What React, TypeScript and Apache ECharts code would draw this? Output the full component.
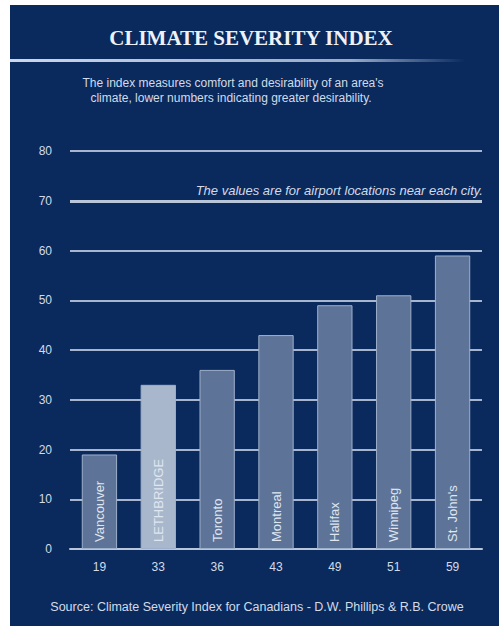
import React, { useEffect, useRef } from "react";
import * as echarts from "echarts";

const cities = ["Vancouver", "LETHBRIDGE", "Toronto", "Montreal", "Halifax", "Winnipeg", "St. John's"];
const values = [19, 33, 36, 43, 49, 51, 59];
const highlightCity = "LETHBRIDGE";
const yTicks = [0, 10, 20, 30, 40, 50, 60, 70, 80];
const noteLevel = 70;

const title = "CLIMATE SEVERITY INDEX";
const subtitle1 = "The index measures comfort and desirability of an area's";
const subtitle2 = "climate, lower numbers indicating greater desirability.";
const note = "The values are for airport locations near each city.";
const source = "Source: Climate Severity Index for Canadians - D.W. Phillips & R.B. Crowe";

const NAVY = "#0a2a5e";
const BAR = "#5d7397";
const BAR_HI = "#a9b7cd";
const TEXT = "#d3dbe8";
const SANS = "'Liberation Sans', Arial, sans-serif";

export default function App() {
  const ref = useRef<HTMLDivElement>(null);
  useEffect(() => {
    if (!ref.current) return;
    const chart = echarts.init(ref.current, undefined, { renderer: "svg" });
    chart.setOption({
      animation: false,
      backgroundColor: "#ffffff",
      graphic: [
        { type: "rect", z: -10, shape: { x: 10, y: 5, width: 489, height: 621 }, style: { fill: NAVY } },
        {
          type: "text",
          x: 251,
          y: 38,
          style: {
            text: title,
            fill: "#eef2f8",
            font: "bold 21px 'Liberation Serif', 'DejaVu Serif', serif",
            align: "center",
            verticalAlign: "middle",
          },
        },
        {
          type: "rect",
          shape: { x: 10, y: 59, width: 455, height: 3 },
          style: {
            fill: new echarts.graphic.LinearGradient(0, 0, 1, 0, [
              { offset: 0, color: "rgba(205,215,232,1)" },
              { offset: 0.75, color: "rgba(170,185,210,0.9)" },
              { offset: 1, color: "rgba(170,185,210,0)" },
            ]),
          },
        },
        {
          type: "text",
          x: 233,
          y: 83,
          style: { text: subtitle1, fill: TEXT, font: `12px ${SANS}`, align: "center", verticalAlign: "middle" },
        },
        {
          type: "text",
          x: 231,
          y: 98,
          style: { text: subtitle2, fill: TEXT, font: `12px ${SANS}`, align: "center", verticalAlign: "middle" },
        },
        {
          type: "text",
          x: 483,
          y: 190,
          style: { text: note, fill: TEXT, font: `italic 13px ${SANS}`, align: "right", verticalAlign: "middle" },
        },
        {
          type: "text",
          x: 257,
          y: 607,
          style: { text: source, fill: TEXT, font: `12.5px ${SANS}`, align: "center", verticalAlign: "middle" },
        },
      ],
      grid: { left: 70, right: 17, top: 151, bottom: 77 },
      xAxis: {
        type: "category",
        data: cities,
        axisLine: { lineStyle: { color: "#b9c6da", width: 2 } },
        axisTick: { show: false },
        axisLabel: {
          color: TEXT,
          fontSize: 12,
          margin: 12,
          fontFamily: SANS,
          formatter: (_v: string, i: number) => String(values[i]),
        },
      },
      yAxis: {
        type: "value",
        min: yTicks[0],
        max: yTicks[yTicks.length - 1],
        interval: 10,
        axisLine: { show: false },
        axisTick: { show: false },
        axisLabel: { color: TEXT, fontSize: 12, margin: 18, fontFamily: SANS },
        splitLine: { lineStyle: { color: "#a7b6ce", width: 2 } },
      },
      series: [
        {
          type: "bar",
          barWidth: "60%",
          data: cities.map((c, i) => ({
            value: values[i],
            itemStyle: { color: c === highlightCity ? BAR_HI : BAR },
          })),
          itemStyle: { borderColor: "#9fb0ca", borderWidth: 1 },
          label: {
            show: true,
            position: "insideBottom",
            rotate: 90,
            align: "left",
            verticalAlign: "middle",
            distance: 7,
            color: "#dfe6f0",
            fontSize: 13,
            fontFamily: SANS,
            formatter: (p: any) => p.name,
          },
          markLine: {
            silent: true,
            symbol: "none",
            label: { show: false },
            lineStyle: { color: "#b9c6da", width: 3, type: "solid" },
            data: [{ yAxis: noteLevel }],
          },
        },
      ],
    });
    return () => chart.dispose();
  }, []);
  return <div ref={ref} style={{ position: "fixed", left: 0, top: 0, width: 499, height: 626 }} />;
}
